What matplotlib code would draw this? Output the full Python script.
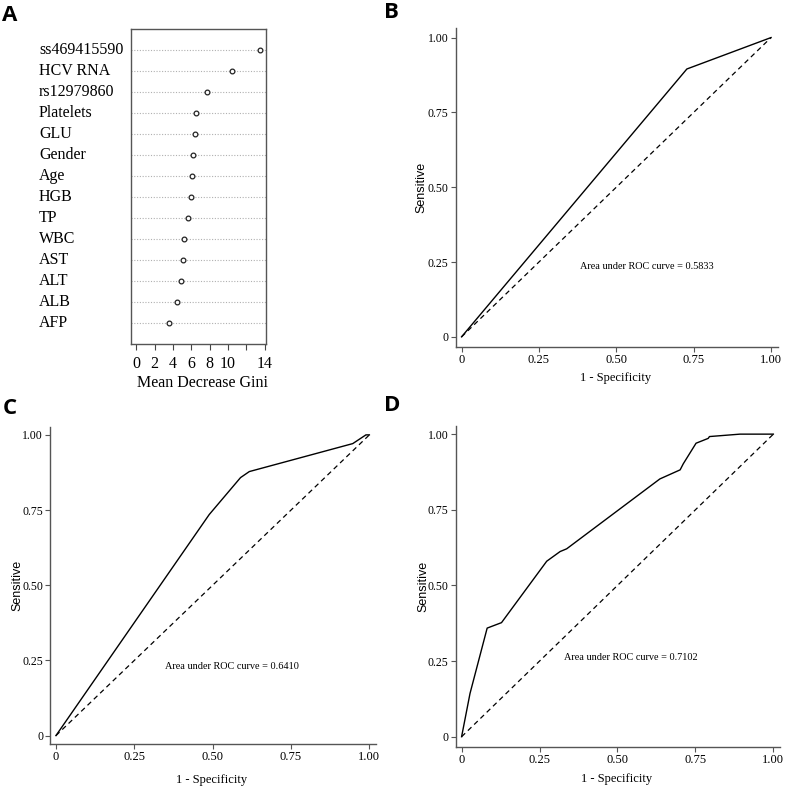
import matplotlib
matplotlib.use("Agg")
import matplotlib.pyplot as plt
from matplotlib.transforms import blended_transform_factory

# Panel A - variable importance (random forest)
features = ["ss469415590", "HCV RNA", "rs12979860", "Platelets", "GLU", "Gender", "Age",
            "HGB", "TP", "WBC", "AST", "ALT", "ALB", "AFP"]
gini = [13.5, 10.45, 7.73, 6.5, 6.42, 6.14, 6.12, 5.95, 5.7, 5.16, 5.09, 4.86, 4.46, 3.56]
gini_ticks = [0, 2, 4, 6, 8, 10, 12, 14]
gini_ticklabels = ["0", "2", "4", "6", "8", "10", "", "14"]

# Panel B - ROC
fpr_b = [0, 0.728, 1.0]
tpr_b = [0, 0.895, 1.0]
auc_b = 0.5833

# Panel C - ROC
fpr_c = [0, 0.489, 0.589, 0.617, 0.947, 0.989, 1.0]
tpr_c = [0, 0.735, 0.858, 0.878, 0.971, 1.0, 1.0]
auc_c = 0.6410

# Panel D - ROC
fpr_d = [0, 0.027, 0.082, 0.128, 0.273, 0.316, 0.337, 0.636, 0.701, 0.711, 0.752, 0.791, 0.795, 0.893, 1.0]
tpr_d = [0, 0.143, 0.359, 0.377, 0.58, 0.612, 0.621, 0.852, 0.882, 0.902, 0.97, 0.986, 0.992, 1.0, 1.0]
auc_d = 0.7102

roc_ticks = [0, 0.25, 0.5, 0.75, 1.0]
roc_ticklabels = ["0", "0.25", "0.50", "0.75", "1.00"]

SERIF = "Liberation Serif"
SANS = "Liberation Sans"

fig = plt.figure(figsize=(7.87, 7.90), dpi=100)


def draw_importance(ax):
    n = len(features)
    ys = list(range(n, 0, -1))
    for y in ys:
        ax.axhline(y, color="#b0b0b0", lw=0.8, linestyle=(0, (1, 1.5)), zorder=1)
    ax.plot(gini, ys, linestyle="none", marker="o", markersize=3.4,
            markerfacecolor="white", markeredgecolor="#222222", markeredgewidth=0.9, zorder=3)
    ax.set_xlim(-0.56, 14.15)
    ax.set_ylim(0, n + 1)
    ax.set_yticks([])
    ax.set_xticks(gini_ticks)
    ax.set_xticklabels(gini_ticklabels, fontfamily=SERIF, fontsize=11.5)
    ax.tick_params(axis="x", direction="out", length=4.5, width=0.8, pad=4.5, color="#444444")
    for s in ax.spines.values():
        s.set_color("#555555")
        s.set_linewidth(1.0)
    ax.set_xlabel("Mean Decrease Gini", fontfamily=SERIF, fontsize=11.5, va="center")
    ax.xaxis.set_label_coords(0.53, -0.125)
    trans = blended_transform_factory(fig.transFigure, ax.transData)
    for name, y in zip(features, ys):
        ax.text(0.0496, y, name, transform=trans, ha="left", va="center",
                fontfamily=SERIF, fontsize=11.5)


def draw_roc(ax, fpr, tpr, auc, text_xy, ylim, ylab_x, xlab_y):
    ax.plot([0, 1], [0, 1], color="black", lw=0.9, linestyle=(0, (4, 3)))
    ax.plot(fpr, tpr, color="black", lw=1.0)
    ax.set_xlim(-0.019, 1.021)
    ax.set_ylim(*ylim)
    ax.set_xticks(roc_ticks)
    ax.set_xticklabels(roc_ticklabels, fontfamily=SERIF, fontsize=9)
    ax.set_yticks(roc_ticks)
    ax.set_yticklabels(roc_ticklabels, fontfamily=SERIF, fontsize=8.5)
    ax.tick_params(direction="out", length=3.5, width=0.8, color="#555555")
    ax.tick_params(axis="x", pad=1.5)
    ax.tick_params(axis="y", pad=1.5)
    ax.spines["top"].set_visible(False)
    ax.spines["right"].set_visible(False)
    for side in ["left", "bottom"]:
        ax.spines[side].set_color("#555555")
        ax.spines[side].set_linewidth(1.0)
    ax.set_ylabel("Sensitive", fontfamily=SANS, fontsize=9, va="center")
    ax.yaxis.set_label_coords(ylab_x, 0.5)
    ax.set_xlabel("1 - Specificity", fontfamily=SERIF, fontsize=9, va="center")
    ax.xaxis.set_label_coords(0.497, xlab_y)
    ax.text(text_xy[0], text_xy[1], f"Area under ROC curve = {auc:.4f}", ha="center", va="center",
            fontfamily=SERIF, fontsize=7.4)


ax_a = fig.add_axes([0.1665, 0.5646, 0.1715, 0.3987])
draw_importance(ax_a)

ax_b = fig.add_axes([0.579, 0.5611, 0.409, 0.4031])
draw_roc(ax_b, fpr_b, tpr_b, auc_b, (0.60, 0.234), (-0.033, 1.031), -0.107, -0.098)

ax_c = fig.add_axes([0.0635, 0.0578, 0.4142, 0.402])
draw_roc(ax_c, fpr_c, tpr_c, auc_c, (0.563, 0.229), (-0.029, 1.027), -0.100, -0.112)

ax_d = fig.add_axes([0.579, 0.0548, 0.412, 0.406])
draw_roc(ax_d, fpr_d, tpr_d, auc_d, (0.543, 0.261), (-0.033, 1.027), -0.101, -0.102)

# panel letters
for letter, x, y in [("A", 0.003, 0.994), ("B", 0.488, 0.997), ("C", 0.003, 0.496), ("D", 0.488, 0.500)]:
    fig.text(x, y, letter, ha="left", va="top", fontsize=16, fontweight="bold", fontfamily="Open Sans")

fig.savefig("out.png", dpi=100, facecolor="white")
